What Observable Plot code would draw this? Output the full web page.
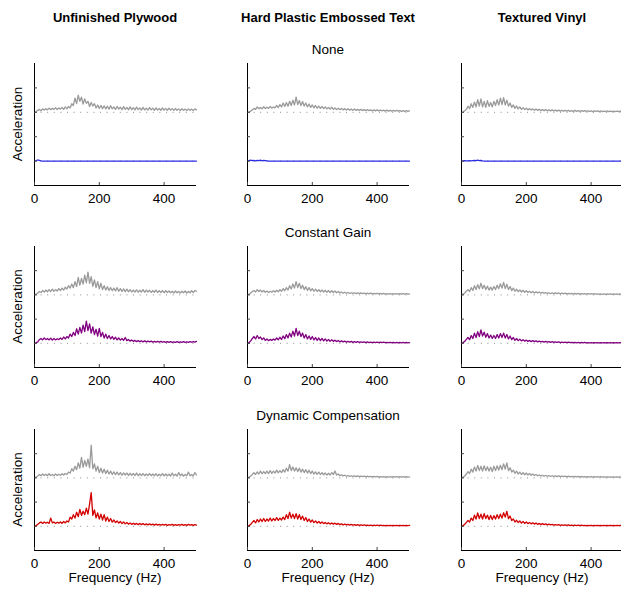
<!DOCTYPE html>
<html><head><meta charset="utf-8">
<script src="https://cdn.jsdelivr.net/npm/d3@7"></script>
<script src="https://cdn.jsdelivr.net/npm/@observablehq/plot@0.6"></script>
<style>
body{margin:0;background:#fff;}
#chart{position:relative;width:621px;height:589px;overflow:hidden;font-family:"Liberation Sans",Arial,sans-serif;color:#000;background:#fff;}
#chart .panel{position:absolute;}
#overlay{position:absolute;left:0;top:0;pointer-events:none;}
</style></head><body><div id="chart"></div>
<script>
// ---- categories ----
const surfaces = ["Unfinished Plywood", "Hard Plastic Embossed Text", "Textured Vinyl"];
const conditions = ["None", "Constant Gain", "Dynamic Compensation"];
const conditionColors = ["#2b2be6", "#800080", "#d20000"];
const xTicks = [0, 200, 400];
const xLabel = "Frequency (Hz)";
const yLabel = "Acceleration";
// frequency bins (Hz), 5 Hz spacing from 0 to 500
const freqStep = 5;
// amplitudes in hundredths of a display unit, one value per 5 Hz bin (0..500 Hz)
// Reference (gray) traces
const refNonePlywood = [0,3,8,12,6,14,9,15,10,17, 11,16,12,19,11,18,13,20,12,22, 14,24,18,35,28,58,36,70,45,62, 34,55,37,45,24,40,26,35,18,30, 16,28,15,26,14,25,13,27,14,22, 12,24,13,21,11,23,12,20,10,22, 11,19,10,21,11,18,9,20,10,17, 9,19,10,17,8,18,9,16,8,18, 9,16,8,17,9,15,8,16,8,14, 7,15,8,13,7,14,8,13,7,14, 10];
const refNonePlastic = [0,2,5,10,16,12,22,15,20,14, 23,15,21,16,24,17,22,18,28,19, 32,22,38,24,40,25,45,28,50,30, 62,32,48,28,44,26,38,22,34,20, 30,18,28,17,25,16,24,15,22,14, 20,13,21,12,18,11,17,11,16,10, 15,9,14,9,13,8,13,8,12,8, 12,7,11,7,11,7,10,6,10,6, 10,6,9,6,9,5,9,5,8,5, 8,5,8,5,7,4,7,4,7,4, 6];
const refNoneVinyl = [0,2,6,12,25,15,35,20,42,22, 52,25,55,22,45,20,48,24,40,22, 45,28,52,30,58,32,60,30,50,25, 38,20,30,16,26,14,22,12,19,11, 17,10,15,9,14,8,13,8,12,7, 11,7,11,6,10,6,10,6,9,5, 9,5,8,5,8,5,8,4,7,4, 8,4,7,4,7,4,7,4,6,4, 6,3,6,4,6,3,6,3,5,3, 6,3,5,3,5,3,5,3,5,3, 4];
const refGainPlywood = [0,3,8,14,10,18,12,20,13,22, 14,24,15,22,16,26,18,28,20,32, 24,38,28,45,30,55,35,72,40,68, 45,82,50,94,48,75,35,62,30,55, 25,48,22,38,20,34,18,30,17,28, 16,30,15,26,14,25,13,24,13,22, 12,20,12,21,11,19,12,22,11,20, 12,19,10,18,11,20,10,17,10,18, 9,17,10,16,9,15,8,16,9,14, 8,15,9,16,8,14,9,17,10,18, 15];
const refGainPlastic = [0,3,8,14,18,12,22,14,20,12, 18,11,16,10,15,11,17,12,19,13, 22,15,26,17,30,20,38,24,45,28, 55,30,48,26,40,22,34,19,30,17, 26,15,24,14,22,13,20,12,19,11, 18,10,17,10,16,9,14,8,12,7, 11,7,10,6,9,6,9,5,8,5, 8,5,7,4,7,4,7,4,6,4, 6,4,6,3,6,3,5,3,5,3, 5,3,5,3,5,3,5,3,5,3, 4];
const refGainVinyl = [0,3,8,15,22,14,30,18,38,22, 42,25,48,26,40,22,36,20,32,20, 35,22,40,26,46,28,52,26,44,22, 35,18,28,15,24,13,21,12,19,11, 17,10,15,9,14,8,13,8,12,7, 11,6,10,6,9,5,9,5,8,5, 8,4,7,4,7,4,6,4,6,3, 6,3,6,3,5,3,5,3,5,3, 5,3,5,3,4,3,4,2,4,2, 4,2,4,2,4,2,4,2,4,2, 3];
const refDynPlywood = [0,3,8,14,9,16,10,15,9,17, 10,14,9,16,10,15,11,17,12,18, 14,24,20,38,28,48,34,62,40,85, 44,72,48,78,42,135,38,58,28,48, 22,40,20,36,18,32,16,28,14,25, 13,24,12,22,11,21,12,20,10,19, 11,18,10,20,9,17,10,18,9,16, 10,18,9,16,9,17,8,15,9,18, 8,16,9,15,8,20,9,15,8,22, 9,16,8,14,9,24,9,14,8,22, 12];
const refDynPlastic = [0,3,8,14,22,14,25,16,28,17, 26,18,28,18,30,19,28,20,32,21, 30,22,34,24,40,28,55,30,45,28, 42,26,40,24,36,22,34,20,32,18, 28,16,25,15,24,14,22,13,20,12, 19,12,22,14,28,12,16,9,13,8, 11,7,10,6,9,6,8,5,8,5, 7,5,7,4,7,4,6,4,6,4, 6,3,5,3,5,3,5,3,5,3, 5,3,5,3,5,3,5,3,5,3, 4];
const refDynVinyl = [0,3,8,16,26,18,36,24,45,28, 52,30,48,28,50,30,46,28,44,26, 48,30,50,32,52,34,58,36,62,30, 42,24,32,19,28,16,24,14,22,13, 20,12,18,11,16,10,14,9,12,8, 11,7,10,7,9,6,9,6,8,5, 8,5,7,5,7,4,7,4,6,4, 6,4,6,3,6,3,5,3,5,3, 5,3,5,3,5,3,5,3,4,3, 4,3,4,3,4,3,4,3,4,3, 4];
// Rendered output (coloured) traces
const outNonePlywood = [0,2,5,3,1,0,0,0,0,0, 0,0,0,0,0,0,0,0,0,0, 0,0,0,0,0,0,0,0,0,0, 0,0,0,0,0,0,0,0,0,0, 0,0,0,0,0,0,0,0,0,0, 0,0,0,0,0,0,0,0,0,0, 0,0,0,0,0,0,0,0,0,0, 0,0,0,0,0,0,0,0,0,0, 0,0,0,0,0,0,0,0,0,0, 0,0,0,0,0,0,0,0,0,0, 0];
const outNonePlastic = [0,2,4,2,3,1,3,2,4,1, 3,2,1,0,0,0,0,0,0,0, 0,0,0,0,0,0,0,0,0,0, 0,0,0,0,0,0,0,0,0,0, 0,0,0,0,0,0,0,0,0,0, 0,0,0,0,0,0,0,0,0,0, 0,0,0,0,0,0,0,0,0,0, 0,0,0,0,0,0,0,0,0,0, 0,0,0,0,0,0,0,0,0,0, 0,0,0,0,0,0,0,0,0,0, 0];
const outNoneVinyl = [0,1,2,1,1,2,1,2,3,2, 4,2,3,1,0,0,0,0,0,0, 0,0,0,0,0,0,0,0,0,0, 0,0,0,0,0,0,0,0,0,0, 0,0,0,0,0,0,0,0,0,0, 0,0,0,0,0,0,0,0,0,0, 0,0,0,0,0,0,0,0,0,0, 0,0,0,0,0,0,0,0,0,0, 0,0,0,0,0,0,0,0,0,0, 0,0,0,0,0,0,0,0,0,0, 0];
const outGainPlywood = [0,2,6,15,20,14,22,15,20,14, 21,13,20,14,19,15,22,16,26,18, 28,22,38,28,45,32,60,38,66,42, 75,48,92,52,80,42,68,36,58,30, 62,28,45,22,38,20,32,18,28,16, 25,14,22,13,20,12,24,11,16,9, 14,8,12,7,11,7,10,6,10,6, 9,6,9,5,8,5,8,5,8,5, 7,4,7,4,7,4,6,4,7,4, 6,4,7,4,6,4,7,5,7,5, 8];
const outGainPlastic = [0,3,10,20,28,18,32,20,26,15, 22,12,18,11,16,12,18,13,22,14, 25,16,30,19,36,22,42,26,50,30, 62,32,50,28,42,22,36,18,30,16, 28,14,24,12,22,11,20,10,18,9, 16,8,15,8,13,7,12,6,10,6, 9,5,8,5,8,4,7,4,7,4, 6,4,6,3,6,3,5,3,5,3, 5,3,5,3,5,3,4,3,4,3, 4,2,4,2,4,2,4,2,4,2, 3];
const outGainVinyl = [0,3,8,16,24,15,32,20,42,24, 48,28,55,30,46,25,40,22,34,20, 32,20,36,22,40,24,42,22,36,18, 30,15,24,12,20,11,17,10,15,9, 13,8,12,7,11,7,10,6,9,6, 8,5,8,5,7,4,7,4,6,4, 6,3,5,3,5,3,5,3,4,3, 4,2,4,2,4,2,4,2,3,2, 3,2,3,2,3,2,3,2,3,2, 3,2,3,2,3,2,3,2,3,2, 3];
const outDynPlywood = [0,3,8,14,18,12,18,13,17,12, 34,14,18,12,17,13,18,12,20,14, 22,18,38,30,48,34,58,40,70,45, 62,48,75,50,92,139,45,68,35,55, 30,50,26,48,22,38,20,32,17,26, 15,22,13,20,11,18,10,16,9,14, 8,13,8,12,7,12,7,11,6,10, 6,10,6,9,5,9,5,8,5,8, 5,8,4,7,5,8,4,7,4,7, 5,8,4,7,4,8,5,7,4,7, 5];
const outDynPlastic = [0,3,8,16,24,14,28,18,30,20, 32,20,30,22,34,22,32,24,36,24, 34,26,38,28,48,32,58,34,50,32, 52,30,48,28,42,24,36,20,30,17, 26,15,22,13,20,12,18,11,16,10, 15,9,14,9,13,8,12,7,10,6, 9,6,8,5,8,5,7,4,7,4, 6,4,6,4,5,3,5,3,5,3, 5,3,5,3,4,3,4,3,4,3, 4,3,4,3,4,3,4,3,4,3, 4];
const outDynVinyl = [0,3,8,16,24,18,34,24,46,30, 55,32,50,30,52,32,46,28,45,28, 44,30,48,32,50,34,56,38,62,32, 42,24,30,18,25,15,22,13,20,12, 18,11,16,10,15,9,14,8,12,7, 11,7,10,6,9,6,8,5,7,5, 7,4,6,4,6,4,6,3,5,3, 5,3,5,3,5,3,4,3,4,3, 4,3,4,3,4,3,4,3,4,3, 4,3,4,3,4,3,4,3,4,3, 4];

const refGrid = [[refNonePlywood, refNonePlastic, refNoneVinyl],[refGainPlywood, refGainPlastic, refGainVinyl],[refDynPlywood, refDynPlastic, refDynVinyl]];
const outGrid = [[outNonePlywood, outNonePlastic, outNoneVinyl],[outGainPlywood, outGainPlastic, outGainVinyl],[outDynPlywood, outDynPlastic, outDynVinyl]];
const refOffset = 3, outOffset = 1;

// ---- layout ----
const colX = [34, 247, 461];
const rowY = [63, 246, 429];
const panelH = [122, 121, 121];
const panelW = 162;
const mL = 10, mR = 10, mT = 5, mB = 30;
const FONT = '"Liberation Sans", Arial, sans-serif';

const chart = document.getElementById("chart");
function toRows(arr, offset) {
  return arr.map((v, i) => ({f: i * freqStep, v: offset + v / 100}));
}
for (let r = 0; r < 3; r++) {
  for (let c = 0; c < 3; c++) {
    const plot = Plot.plot({
      width: panelW + mL + mR,
      height: panelH[r] + mT + mB,
      marginLeft: mL, marginRight: mR, marginTop: mT, marginBottom: mB,
      x: {domain: [0, 500]},
      y: {domain: [0, 5]},
      style: {fontFamily: FONT, fontSize: "13.5px", background: "transparent", overflow: "visible", color: "#000"},
      marks: [
        Plot.ruleY([refOffset, outOffset], {stroke: "#8c8c8c", strokeDasharray: "1,5.6", strokeWidth: 1}),
        Plot.lineY(toRows(refGrid[r][c], refOffset), {x: "f", y: "v", stroke: "#9a9a9a", strokeWidth: 1.3}),
        Plot.lineY(toRows(outGrid[r][c], outOffset), {x: "f", y: "v", stroke: conditionColors[r], strokeWidth: r === 0 ? 1.1 : 1.3}),
        Plot.ruleX([0], {stroke: "#000"}),
        Plot.ruleY([0], {stroke: "#000"}),
        Plot.axisY({ticks: [1, 2, 3, 4], tickSize: 3, dx: 3, tickFormat: () => "", label: null, stroke: "#444"}),
        Plot.axisX({ticks: xTicks, tickSize: 3, dy: -3, tickFormat: () => "", label: null, stroke: "#444"}),
        Plot.axisX({ticks: xTicks, tickSize: 0, tickPadding: 7.5, label: null, fontSize: 13.5})
      ]
    });
    plot.classList.add("panel");
    plot.style.left = (colX[c] - mL) + "px";
    plot.style.top = (rowY[r] - mT) + "px";
    chart.appendChild(plot);
  }
}

// ---- titles & labels ----
const svg = d3.select(chart).append("svg").attr("id", "overlay").attr("width", 621).attr("height", 589)
  .style("font-family", FONT);
surfaces.forEach((s, c) => {
  svg.append("text").attr("x", colX[c] + panelW / 2).attr("y", 21.5).attr("text-anchor", "middle")
    .attr("font-size", 13).attr("font-weight", "bold").text(s);
  svg.append("text").attr("x", colX[c] + panelW / 2).attr("y", 582).attr("text-anchor", "middle")
    .attr("font-size", 13.5).text(xLabel);
});
conditions.forEach((t, r) => {
  svg.append("text").attr("x", colX[1] + panelW / 2).attr("y", rowY[r] - 9).attr("text-anchor", "middle")
    .attr("font-size", 13.5).text(t);
  const yc = rowY[r] + panelH[r] / 2;
  svg.append("text").attr("transform", `translate(21.5,${yc}) rotate(-90)`).attr("text-anchor", "middle")
    .attr("font-size", 13.5).text(yLabel);
});
</script></body></html>
